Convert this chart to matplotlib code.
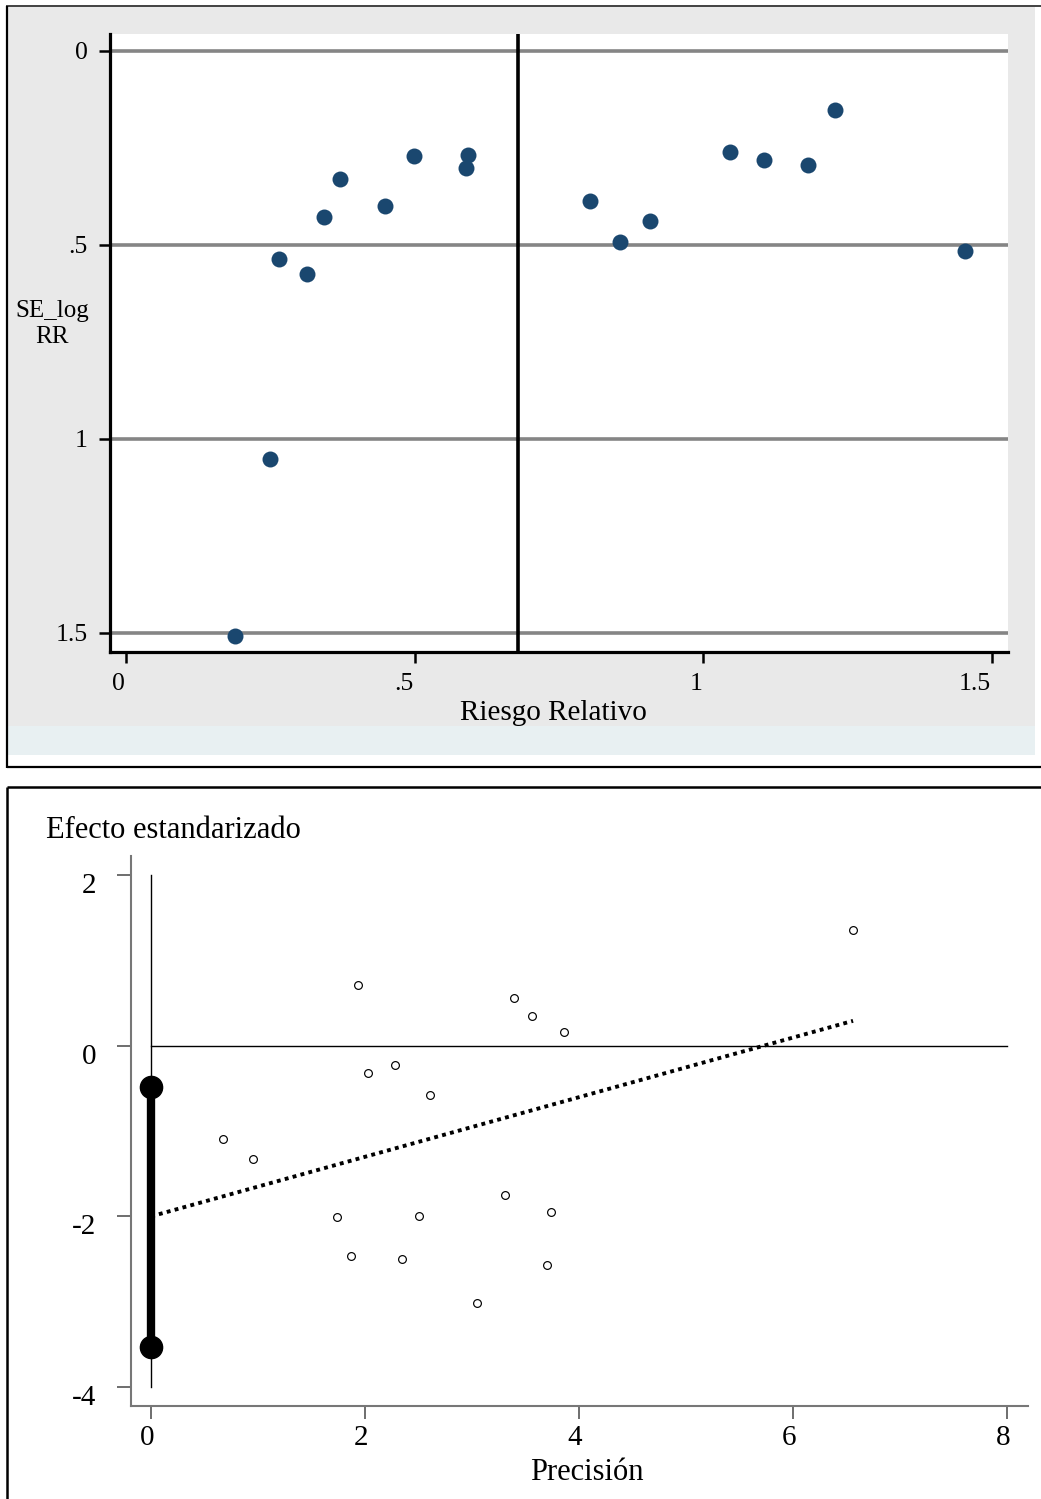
import matplotlib
matplotlib.use("Agg")
import matplotlib.pyplot as plt
from matplotlib.patches import Rectangle
from matplotlib.lines import Line2D
from matplotlib.transforms import ScaledTranslation

# ---------------- data ----------------
# Top panel: funnel plot
rr = [0.189, 0.249, 0.265, 0.314, 0.343, 0.371, 0.449, 0.499, 0.589, 0.592,
      0.804, 0.856, 0.908, 1.046, 1.105, 1.181, 1.228, 1.453]
se_logrr = [1.508, 1.052, 0.536, 0.575, 0.428, 0.330, 0.400, 0.271, 0.302, 0.268,
            0.387, 0.492, 0.438, 0.260, 0.281, 0.294, 0.152, 0.515]
pooled_rr = 0.679
top_xticks = [0, 0.5, 1, 1.5]
top_xticklabels = ["0", ".5", "1", "1.5"]
top_yticks = [0, 0.5, 1, 1.5]
top_yticklabels = ["0", ".5", "1", "1.5"]

# Bottom panel: Galbraith / Egger plot
precision = [1.935, 3.393, 3.561, 3.860, 2.028, 2.280, 2.607, 0.673, 0.953,
             1.738, 2.505, 1.869, 2.346, 3.047, 3.308, 3.738, 3.701, 6.561]
std_effect = [0.713, 0.561, 0.351, 0.164, -0.316, -0.222, -0.573, -1.088, -1.322,
              -2.012, -2.000, -2.468, -2.503, -3.018, -1.754, -1.953, -2.573, 1.357]
reg_intercept = -2.0
reg_slope = 0.349
intercept_ci = [-3.53, -0.49]
bot_xticks = [0, 2, 4, 6, 8]
bot_yticks = [2, 0, -2, -4]
bot_yticklabels = ["2", "0", "-2", "-4"]

# ---------------- figure ----------------
W, H = 1041, 1499
plt.rcParams['font.family'] = ['Liberation Serif', 'DejaVu Serif']
fig = plt.figure(figsize=(W / 100, H / 100), dpi=100)
fig.patch.set_facecolor('white')


def rect(x0, y0, x1, y1):
    return [x0 / W, 1 - y1 / H, (x1 - x0) / W, (y1 - y0) / H]


def fline(x0, y0, x1, y1, lw, color='black'):
    fig.add_artist(Line2D([x0 / W, x1 / W], [1 - y0 / H, 1 - y1 / H],
                          transform=fig.transFigure, color=color, lw=lw,
                          solid_capstyle='butt'))


def frect(x0, y0, x1, y1, color):
    fig.add_artist(Rectangle((x0 / W, 1 - y1 / H), (x1 - x0) / W, (y1 - y0) / H,
                             transform=fig.transFigure, facecolor=color,
                             edgecolor='none', zorder=0))


# backgrounds of top panel
frect(7, 7, 1035, 726, '#e9e9e9')
frect(7, 726, 1035, 755, '#e8f0f2')
# frames
fline(6, 6, 1041, 6, 1.3, '#333333')
fline(7, 6, 7, 768, 1.6)
fline(7, 767, 1041, 767, 1.6)
fline(7, 787, 1041, 787, 1.8)
fline(7, 787, 7, 1499, 1.8)

# ---------------- top axes ----------------
ax1 = fig.add_axes(rect(110, 34, 1008, 652))
ax1.set_facecolor('white')
ax1.set_xlim(-0.0277, 1.528)
ax1.set_ylim(1.549, -0.0438)
for yv in top_yticks:
    ax1.axhline(yv, color='#858585', lw=2.6, zorder=1)
ax1.axvline(pooled_rr, color='black', lw=2.6, zorder=2)
ax1.plot(rr, se_logrr, 'o', color='#1a476f', markersize=11.5,
         markeredgewidth=0, zorder=3)
for s in ['top', 'right']:
    ax1.spines[s].set_visible(False)
for s in ['left', 'bottom']:
    ax1.spines[s].set_linewidth(2.3)
    ax1.spines[s].set_color('black')
ax1.set_xticks(top_xticks)
ax1.set_xticklabels(top_xticklabels, fontsize=18.5)
ax1.set_yticks(top_yticks)
ax1.set_yticklabels(top_yticklabels, fontsize=18.5)
ax1.tick_params(axis='both', length=8, width=1.8, color='black')
ax1.tick_params(axis='x', pad=7)
ax1.tick_params(axis='y', pad=8)
for lab in ax1.get_xticklabels():
    lab.set_horizontalalignment('right')
    lab.set_transform(lab.get_transform() + ScaledTranslation(-1 / 100, 0, fig.dpi_scale_trans))
ax1.set_xlabel('Riesgo Relativo', fontsize=21)
ax1.xaxis.set_label_coords((553 - 110) / (1008 - 110), -(713 - 652) / (652 - 34))
ax1.xaxis.label.set_va('center')
fig.text(52 / W, 1 - 324 / H, 'SE_log\nRR', fontsize=18, ha='center', va='center',
         linespacing=1.2)

# ---------------- bottom axes ----------------
ax2 = fig.add_axes(rect(131, 856, 1028, 1406))
ax2.set_xlim(-0.187, 8.196)
ax2.set_ylim(-4.22, 2.22)
ax2.plot([0, 0], [bot_yticks[-1], bot_yticks[0]], color='black', lw=1.0, zorder=2)
ax2.plot([0, bot_xticks[-1]], [0, 0], color='black', lw=1.0, zorder=2)
ax2.plot([0, 0], intercept_ci, color='black', lw=6, solid_capstyle='butt', zorder=3)
ax2.plot([0, 0], intercept_ci, 'o', color='black', markersize=16, zorder=3)
xr = [0, max(precision)]
ax2.plot(xr, [reg_intercept + reg_slope * v for v in xr], color='black', lw=2.8,
         linestyle=(0, (1, 1.1)), dash_capstyle='butt', zorder=2)
ax2.plot(precision, std_effect, 'o', markerfacecolor='white', markeredgecolor='black',
         markersize=5.6, markeredgewidth=0.85, zorder=4)
for s in ['top', 'right']:
    ax2.spines[s].set_visible(False)
for s in ['left', 'bottom']:
    ax2.spines[s].set_linewidth(1.5)
    ax2.spines[s].set_color('#777777')
ax2.set_xticks(bot_xticks)
ax2.set_xticklabels([str(v) for v in bot_xticks], fontsize=21)
ax2.set_yticks(bot_yticks)
ax2.set_yticklabels(bot_yticklabels, fontsize=21)
ax2.tick_params(axis='y', length=10, width=1.2, color='#555555', pad=15)
ax2.tick_params(axis='x', length=9, width=1.2, color='#555555', pad=5)
for lab in ax2.get_xticklabels():
    lab.set_transform(lab.get_transform() + ScaledTranslation(-4 / 100, 0, fig.dpi_scale_trans))
for lab in ax2.get_yticklabels():
    lab.set_transform(lab.get_transform() + ScaledTranslation(0, -8 / 100, fig.dpi_scale_trans))
ax2.set_xlabel('Precisión', fontsize=22)
ax2.xaxis.set_label_coords((587 - 131) / (1028 - 131), -(1472 - 1406) / (1406 - 856))
ax2.xaxis.label.set_va('center')
fig.text(46 / W, 1 - 830 / H, 'Efecto estandarizado', fontsize=22, ha='left', va='center')

fig.savefig('out.png', dpi=100, facecolor='white')
